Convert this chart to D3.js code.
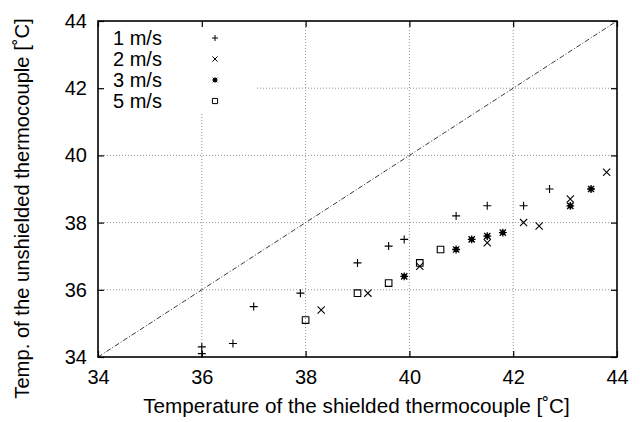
<!DOCTYPE html>
<html><head><meta charset="utf-8">
<script src="https://cdn.jsdelivr.net/npm/d3@7"></script>
<style>body{margin:0;background:#fff}svg{display:block}text{font-family:"Liberation Sans",Arial,Helvetica,sans-serif;fill:#000}</style>
</head><body>
<script>
const xTicks = [34, 36, 38, 40, 42, 44];
const yTicks = [34, 36, 38, 40, 42, 44];
const seriesNames = ["1 m/s", "2 m/s", "3 m/s", "5 m/s"];
const s1 = [[36,34.3],[36,34.1],[36.6,34.4],[37,35.5],[37.9,35.9],[39,36.8],[39.6,37.3],[39.9,37.5],[40.9,38.2],[41.5,38.5],[42.2,38.5],[42.7,39.0]];
const s2 = [[38.3,35.4],[39.2,35.9],[40.2,36.7],[41.5,37.4],[42.2,38.0],[42.5,37.9],[43.1,38.7],[43.8,39.5]];
const s3 = [[39.9,36.4],[40.9,37.2],[41.2,37.5],[41.5,37.6],[41.8,37.7],[43.1,38.5],[43.5,39.0]];
const s5 = [[38.0,35.1],[39.0,35.9],[39.6,36.2],[40.2,36.8],[40.6,37.2]];
const diag = [[34,34],[44,44]];

const W = 640, H = 422;
const L = 98, R = 617, T = 21, B = 357;
const svg = d3.select("body").append("svg").attr("width", W).attr("height", H);
const x = d3.scaleLinear().domain([34,44]).range([L,R]);
const y = d3.scaleLinear().domain([34,44]).range([B,T]);

// grid
const grid = svg.append("g").attr("stroke","#777").attr("stroke-width",0.8).attr("stroke-dasharray","1,2");
grid.selectAll(".gx").data(xTicks.slice(1,-1)).join("line").attr("x1",d=>x(d)).attr("x2",d=>x(d)).attr("y1",T).attr("y2",B);
grid.selectAll(".gy").data(yTicks.slice(1,-1)).join("line").attr("y1",d=>y(d)).attr("y2",d=>y(d)).attr("x1",L).attr("x2",R);

// diagonal
svg.append("path").attr("d", d3.line().x(d=>x(d[0])).y(d=>y(d[1]))(diag))
  .attr("fill","none").attr("stroke","#222").attr("stroke-width",0.9).attr("stroke-dasharray","5,2,1,2");

// legend background
svg.append("rect").attr("x",L).attr("y",T).attr("width",157).attr("height",91).attr("fill","#fff");

// axes
const ax = svg.append("g");
const gBottom = ax.append("g").attr("transform",`translate(0,${B})`).call(d3.axisBottom(x).tickValues(xTicks).tickSizeInner(-6).tickSizeOuter(0).tickPadding(13).tickFormat(d3.format("d")));
const gLeft = ax.append("g").attr("transform",`translate(${L},0)`).call(d3.axisLeft(y).tickValues(yTicks).tickSizeInner(-6).tickSizeOuter(0).tickPadding(11).tickFormat(d3.format("d")));
const gTop = ax.append("g").attr("transform",`translate(0,${T})`).call(d3.axisTop(x).tickValues(xTicks).tickSizeInner(-6).tickSizeOuter(0).tickFormat(""));
const gRight = ax.append("g").attr("transform",`translate(${R},0)`).call(d3.axisRight(y).tickValues(yTicks).tickSizeInner(-6).tickSizeOuter(0).tickFormat(""));
ax.selectAll(".domain").remove();
ax.selectAll(".tick line").attr("stroke","#000").attr("stroke-width",1.2);
ax.selectAll(".tick text").attr("font-size",20).attr("font-family",'"Liberation Sans",Arial,sans-serif').attr("fill","#000");

svg.append("rect").attr("x",L).attr("y",T).attr("width",R-L).attr("height",B-T)
  .attr("fill","none").attr("stroke","#000").attr("stroke-width",1.6);

// markers
function plus(s){return `M${-s},0H${s}M0,${-s}V${s}`;}
function cross(s){return `M${-s},${-s}L${s},${s}M${-s},${s}L${s},${-s}`;}
function star(s){return plus(s)+cross(s*0.8)+`M${-s*0.45},${-s*0.45}h${s*0.9}v${s*0.9}h${-s*0.9}z`;}
function square(s){return `M${-s},${-s}H${s}V${s}H${-s}Z`;}
const symbols = [p=>plus(4), p=>cross(3.6), p=>star(3.9), p=>square(3.3)];
const allSeries = [s1, s2, s3, s5];
const mk = svg.append("g");
allSeries.forEach((s,i)=>{
  mk.selectAll(null).data(s).join("path")
    .attr("transform",d=>`translate(${x(d[0])},${y(d[1])})`)
    .attr("d",symbols[i]).attr("fill",i===2?"#000":"none").attr("stroke","#000").attr("stroke-width",i===2?1.3:1.1);
});

// legend
const lg = svg.append("g");
seriesNames.forEach((n,i)=>{
  lg.append("text").attr("x",113).attr("y",44.5+i*21).attr("font-size",20).text(n);
  const s = [p=>plus(3), p=>cross(2.6), p=>star(2.8), p=>square(2.6)][i];
  lg.append("path").attr("transform",`translate(215,${38+i*21})`).attr("d",s()).attr("fill",i===2?"#000":"none").attr("stroke","#000").attr("stroke-width",1);
});

// titles
svg.append("text").attr("x",(L+R)/2 - 1).attr("y",413).attr("text-anchor","middle").attr("font-size",20.7)
  .text("Temperature of the shielded thermocouple [˚C]");
svg.append("text").attr("transform",`translate(29,208.5) rotate(-90)`).attr("text-anchor","middle").attr("font-size",20.2)
  .text("Temp. of the unshielded thermocouple [˚C]");
</script>
</body></html>
